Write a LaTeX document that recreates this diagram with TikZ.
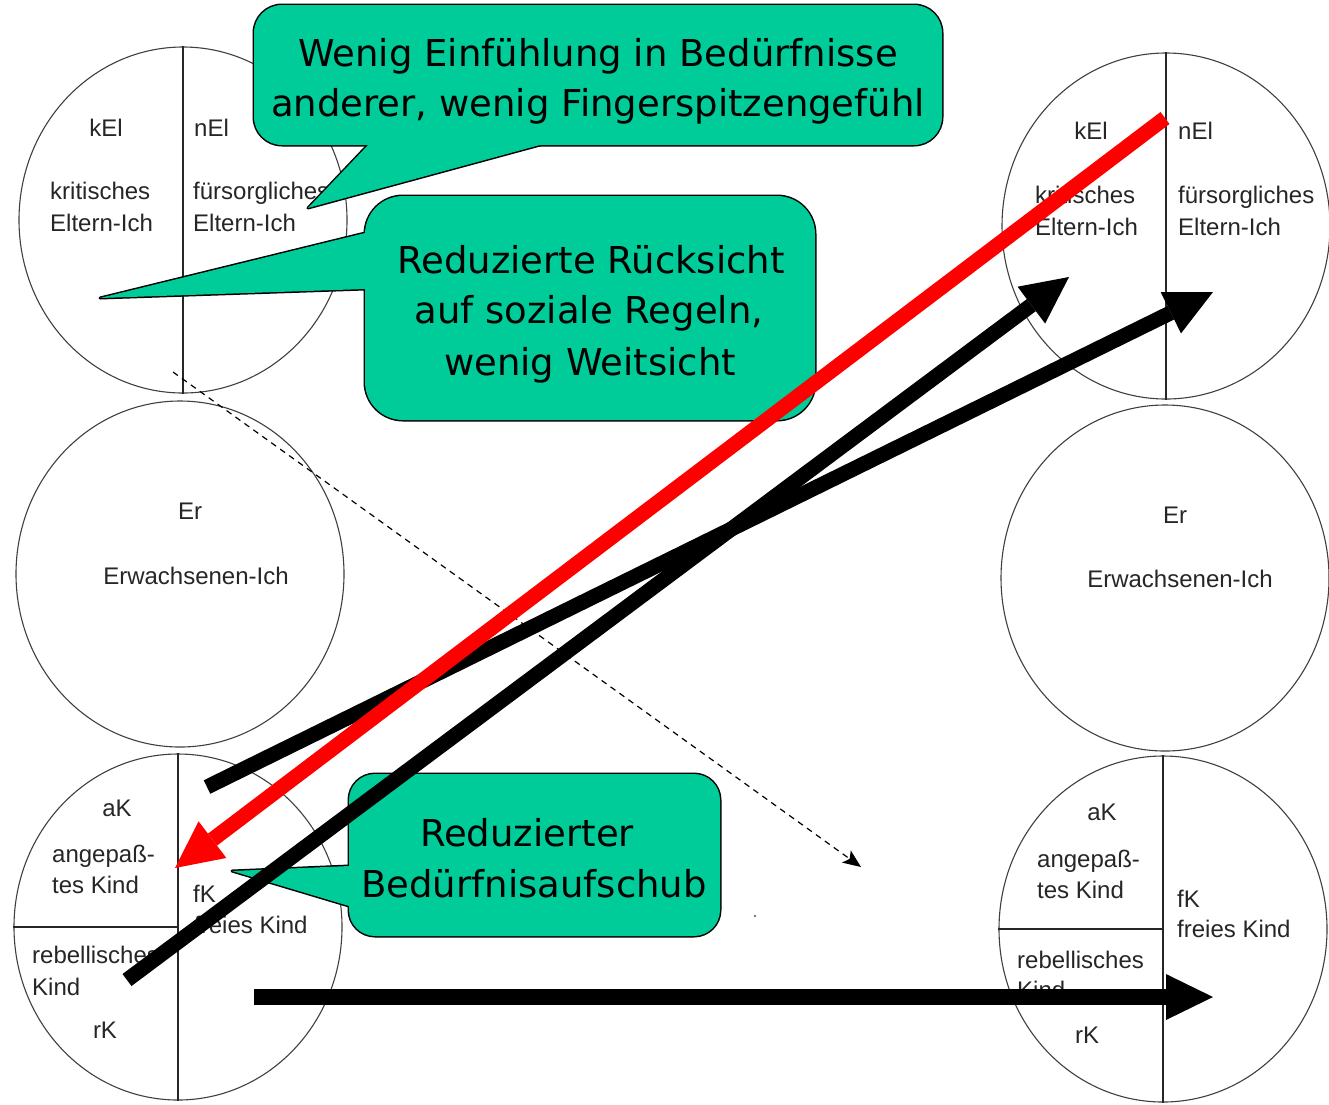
\documentclass[tikz,border=0pt]{standalone}
\usepackage{fontspec}
\usetikzlibrary{arrows.meta,shapes.geometric}
\newfontfamily\egofont{Liberation Sans}
\newfontfamily\callfont{DejaVu Sans}
\definecolor{callgreen}{RGB}{0,204,153}
\definecolor{arrowred}{RGB}{255,0,0}
\begin{document}
\begin{tikzpicture}[x=1pt,y=-1pt,
  ego/.style={ellipse, draw=black!75, line width=1.1pt, minimum width=328pt, minimum height=346pt, inner sep=0pt},
  divider/.style={draw=black!85, line width=1.3pt},
  lab/.style={font=\egofont\fontsize{24}{28}\selectfont, text=black!85, inner sep=0pt},
  ctext/.style={font=\callfont\fontsize{37}{44}\selectfont, text=black, inner sep=0pt, anchor=base},
  calledge/.style={draw=black, line width=3pt, line join=round},
  callfill/.style={fill=callgreen},
  thickarrow/.style={line width=15pt, -{Triangle[length=47pt,width=46pt,line width=0pt]}},
  dasharrow/.style={line width=1.2pt, dash pattern=on 6pt off 5pt, -{Stealth[length=18pt,width=15pt,inset=4pt,line width=0pt]}}
]
\fill[white] (0,0) rectangle (1329,1104);
\useasboundingbox (0,0) rectangle (1329,1104);

% ---------- left column ----------
\node[ego] (tl) at (183,220) {};
\draw[divider] (tl.north) -- (tl.south);
\node[ego] (ml) at (180,574) {};
\node[ego] (bl) at (178,927) {};
\draw[divider] (bl.north) -- (bl.south);
\draw[divider] (bl.west) -- (bl.center);

% ---------- right column ----------
\node[ego] (tr) at (1166,226) {};
\draw[divider] (tr.north) -- (tr.south);
\node[ego] (mr) at (1165,578) {};
\node[ego] (br) at (1163,929) {};
\draw[divider] (br.north) -- (br.south);
\draw[divider] (br.west) -- (br.center);

% ---------- labels top-left ----------
\node[lab, anchor=base] (tlk) at (106,136) {kEl};
\node[lab, anchor=base west] (tln) at (194,136) {nEl};
\node[lab, anchor=base west] (tlk1) at (50,199) {kritisches};
\node[lab, anchor=base west] (tlk2) at (50,231) {Eltern-Ich};
\node[lab, anchor=base west] (tln1) at (193,199) {fürsorgliches};
\node[lab, anchor=base west] (tln2) at (193,231) {Eltern-Ich};

% ---------- labels top-right ----------
\node[lab, anchor=base] (trk) at (1091,139) {kEl};
\node[lab, anchor=base west] (trn) at (1178,139) {nEl};
\node[lab, anchor=base west] (trk1) at (1035,203) {kritisches};
\node[lab, anchor=base west] (trk2) at (1035,235) {Eltern-Ich};
\node[lab, anchor=base west] (trn1) at (1178,203) {fürsorgliches};
\node[lab, anchor=base west] (trn2) at (1178,235) {Eltern-Ich};

% ---------- labels middle ----------
\node[lab, anchor=base] (mle) at (190,519) {Er};
\node[lab, anchor=base] (mle2) at (196,584) {Erwachsenen-Ich};
\node[lab, anchor=base] (mre) at (1175,523) {Er};
\node[lab, anchor=base] (mre2) at (1180,587) {Erwachsenen-Ich};

% ---------- labels bottom-left ----------
\node[lab, anchor=base] (bla) at (117,816) {aK};
\node[lab, anchor=base west] (bla1) at (52,862) {angepaß-};
\node[lab, anchor=base west] (bla2) at (52,893) {tes Kind};
\node[lab, anchor=base west] (blf) at (193,902) {fK};
\node[lab, anchor=base west] (blf1) at (194,933) {freies Kind};
\node[lab, anchor=base west] (blr1) at (32,963) {rebellisches};
\node[lab, anchor=base west] (blr2) at (32,995) {Kind};
\node[lab, anchor=base] (blr) at (105,1038) {rK};

% ---------- labels bottom-right ----------
\node[lab, anchor=base] (bra) at (1102,820) {aK};
\node[lab, anchor=base west] (bra1) at (1037,867) {angepaß-};
\node[lab, anchor=base west] (bra2) at (1037,898) {tes Kind};
\node[lab, anchor=base west] (brf) at (1177,907) {fK};
\node[lab, anchor=base west] (brf1) at (1177,937) {freies Kind};
\node[lab, anchor=base west] (brr1) at (1017,968) {rebellisches};
\node[lab, anchor=base west] (brr2) at (1017,998) {Kind};
\node[lab, anchor=base] (brr) at (1087,1043) {rK};

% ---------- dashed arrow ----------
\coordinate (dA) at (173,372);
\coordinate (dB) at (861,867);
\draw[dasharrow] (dA) -- (dB);
\fill[black!55] (755,916) circle (1.3pt);

% ---------- callout 1 ----------
\draw[calledge, rounded corners=28pt] (254,5) rectangle (942,145);
\draw[calledge] (368,145) -- (308,208) -- (540,145) -- cycle;
\fill[callfill, rounded corners=28pt] (254,5) rectangle (942,145);
\fill[callfill] (368,145) -- (308,208) -- (540,145) -- cycle;
\node[ctext] (c1a) at (598,66) {Wenig Einfühlung in Bedürfnisse};
\node[ctext] (c1b) at (598,116) {anderer, wenig Fingerspitzengefühl};

% ---------- callout 2 ----------
\draw[calledge, rounded corners=38pt] (365,196) rectangle (815,420);
\draw[calledge] (365,233) -- (100,298) -- (365,289) -- cycle;
\fill[callfill, rounded corners=38pt] (365,196) rectangle (815,420);
\fill[callfill] (365,233) -- (100,298) -- (365,289) -- cycle;
\node[ctext] (c2a) at (591,273) {Reduzierte Rücksicht};
\node[ctext] (c2b) at (589,323) {auf soziale Regeln,};
\node[ctext] (c2c) at (590,375) {wenig Weitsicht};

% ---------- callout 3 ----------
\draw[calledge, rounded corners=26pt] (349,774) rectangle (720,936);
\draw[calledge] (349,866) -- (232,871) -- (349,906) -- cycle;
\fill[callfill, rounded corners=26pt] (349,774) rectangle (720,936);
\fill[callfill] (349,866) -- (232,871) -- (349,906) -- cycle;
\node[ctext] (c3a) at (527,846) {Reduzierter};
\node[ctext] (c3b) at (534,897) {Bedürfnisaufschub};

% ---------- thick arrows ----------
\coordinate (bS) at (207,787);
\coordinate (bE) at (1213,292);
\coordinate (aS) at (127,980);
\coordinate (aE) at (1069,277);
\coordinate (cS) at (254,997);
\coordinate (cE) at (1213,997);
\coordinate (rS) at (1165,118);
\coordinate (rE) at (175,868);
\draw[thickarrow] (bS) -- (bE);
\draw[thickarrow] (aS) -- (aE);
\draw[thickarrow, line width=16pt] (cS) -- (cE);
\draw[thickarrow, draw=arrowred, fill=arrowred] (rS) -- (rE);
\end{tikzpicture}
\end{document}
